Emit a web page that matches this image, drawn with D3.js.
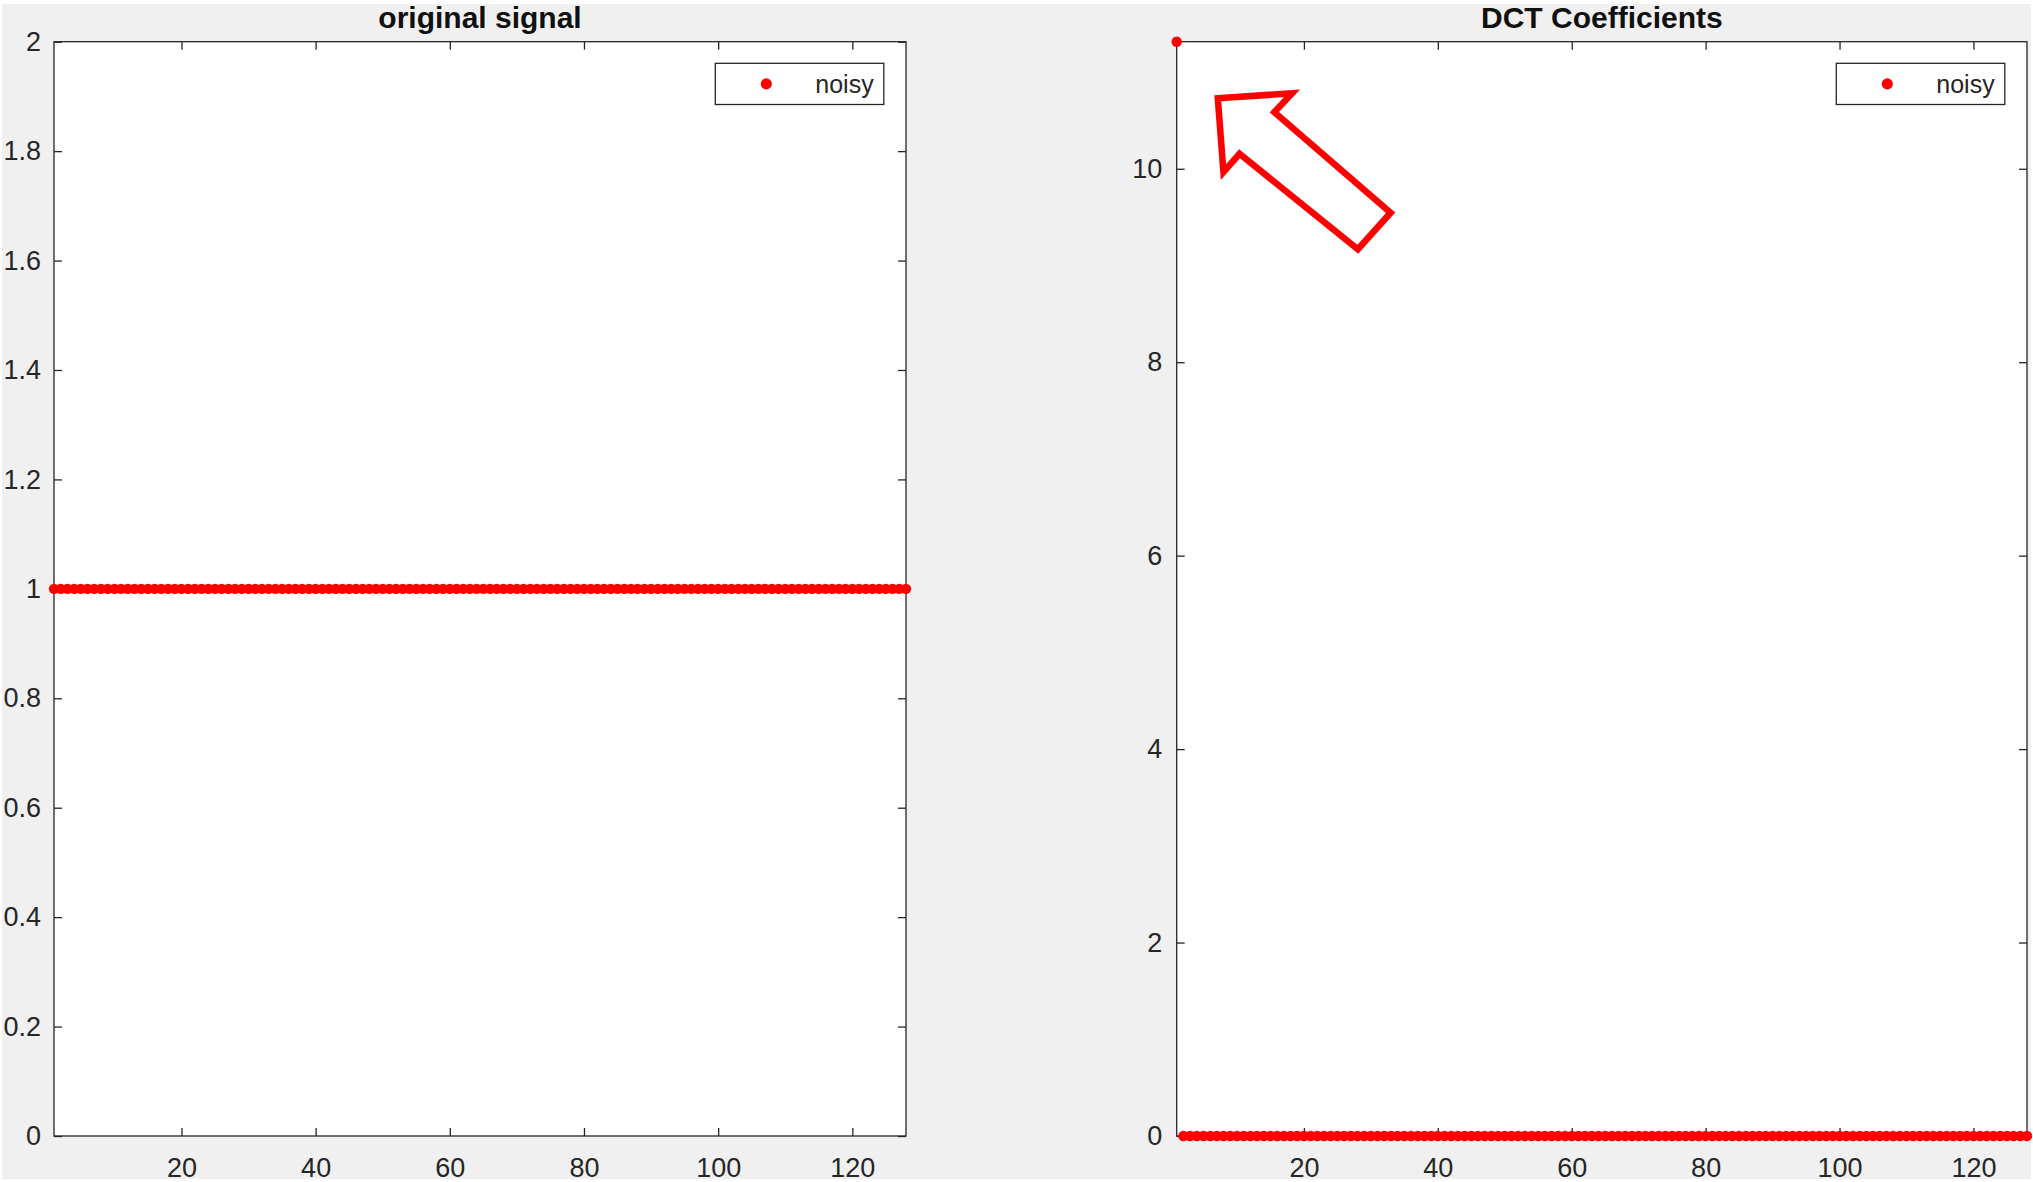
<!DOCTYPE html>
<html>
<head>
<meta charset="utf-8">
<script src="https://cdn.jsdelivr.net/npm/d3@7"></script>
<style>
  html, body { margin: 0; padding: 0; background: #ffffff; }
  svg { display: block; }
</style>
</head>
<body>
<script>
// ---- data -------------------------------------------------------------
const signalTitle = "original signal";
const dctTitle = "DCT Coefficients";
const legendLabel = "noisy";

// constant input signal, samples 1..128
const originalSignal = [
  1, 1, 1, 1, 1, 1, 1, 1, 1, 1, 1, 1, 1, 1, 1, 1,
  1, 1, 1, 1, 1, 1, 1, 1, 1, 1, 1, 1, 1, 1, 1, 1,
  1, 1, 1, 1, 1, 1, 1, 1, 1, 1, 1, 1, 1, 1, 1, 1,
  1, 1, 1, 1, 1, 1, 1, 1, 1, 1, 1, 1, 1, 1, 1, 1,
  1, 1, 1, 1, 1, 1, 1, 1, 1, 1, 1, 1, 1, 1, 1, 1,
  1, 1, 1, 1, 1, 1, 1, 1, 1, 1, 1, 1, 1, 1, 1, 1,
  1, 1, 1, 1, 1, 1, 1, 1, 1, 1, 1, 1, 1, 1, 1, 1,
  1, 1, 1, 1, 1, 1, 1, 1, 1, 1, 1, 1, 1, 1, 1, 1
];

// its DCT: all energy in the DC term
const dctCoefficients = [
  11.3137, 0, 0, 0, 0, 0, 0, 0, 0, 0, 0, 0, 0, 0, 0, 0,
  0, 0, 0, 0, 0, 0, 0, 0, 0, 0, 0, 0, 0, 0, 0, 0,
  0, 0, 0, 0, 0, 0, 0, 0, 0, 0, 0, 0, 0, 0, 0, 0,
  0, 0, 0, 0, 0, 0, 0, 0, 0, 0, 0, 0, 0, 0, 0, 0,
  0, 0, 0, 0, 0, 0, 0, 0, 0, 0, 0, 0, 0, 0, 0, 0,
  0, 0, 0, 0, 0, 0, 0, 0, 0, 0, 0, 0, 0, 0, 0, 0,
  0, 0, 0, 0, 0, 0, 0, 0, 0, 0, 0, 0, 0, 0, 0, 0,
  0, 0, 0, 0, 0, 0, 0, 0, 0, 0, 0, 0, 0, 0, 0, 0
];

const sampleDomain = [1, 128];
const xTicks = [20, 40, 60, 80, 100, 120];
const xTickLabels = ["20", "40", "60", "80", "100", "120"];

const signalYDomain = [0, 2];
const signalYTicks = [0, 0.2, 0.4, 0.6, 0.8, 1, 1.2, 1.4, 1.6, 1.8, 2];
const signalYTickLabels = ["0", "0.2", "0.4", "0.6", "0.8", "1", "1.2", "1.4", "1.6", "1.8", "2"];

const dctYDomain = [0, 11.3137];
const dctYTicks = [0, 2, 4, 6, 8, 10];
const dctYTickLabels = ["0", "2", "4", "6", "8", "10"];

// block-arrow callout pointing at the DC coefficient (data units of the DCT axes)
const arrowOutline = [
  [7.14, 10.73], [18.23, 10.78], [15.58, 10.585], [32.96, 9.546],
  [28.06, 9.168], [10.38, 10.155], [7.98, 9.966]
];

// ---- layout -----------------------------------------------------------
const W = 2033, H = 1182;
const AX_TOP = 41.7, AX_BOTTOM = 1136;
const INK = "#262626";
const RED = "#ff0000";
const FONT = "'Liberation Sans', Arial, Helvetica, sans-serif";

const svg = d3.select("body").append("svg")
  .attr("width", W).attr("height", H)
  .style("font-family", FONT);

svg.append("rect").attr("width", W).attr("height", H).attr("fill", "#ffffff");
svg.append("rect").attr("x", 2).attr("y", 4).attr("width", 2029).attr("height", 1175.3)
  .attr("fill", "#f0f0f0");

function drawPanel(cfg) {
  const x = d3.scaleLinear().domain(sampleDomain).range([cfg.left, cfg.right]);
  const y = d3.scaleLinear().domain(cfg.yDomain).range([AX_BOTTOM, AX_TOP]);
  const g = svg.append("g");

  g.append("rect")
    .attr("x", cfg.left).attr("y", AX_TOP)
    .attr("width", cfg.right - cfg.left).attr("height", AX_BOTTOM - AX_TOP)
    .attr("fill", "#ffffff");

  const styleAxis = sel => {
    sel.select(".domain").remove();
    sel.selectAll(".tick line").attr("stroke", INK).attr("stroke-width", 1.3);
    sel.selectAll(".tick text").attr("fill", INK).style("font-size", "27px").style("font-family", FONT);
  };

  const labelOf = (ticks, labels) => d => labels[ticks.indexOf(d)];

  g.append("g").attr("transform", `translate(0,${AX_BOTTOM})`)
    .call(d3.axisBottom(x).tickValues(xTicks).tickFormat(labelOf(xTicks, xTickLabels))
      .tickSizeInner(-8).tickSizeOuter(0).tickPadding(21.5))
    .call(styleAxis);
  g.append("g").attr("transform", `translate(0,${AX_TOP})`)
    .call(d3.axisTop(x).tickValues(xTicks).tickFormat("").tickSizeInner(-8).tickSizeOuter(0))
    .call(styleAxis);
  g.append("g").attr("transform", `translate(${cfg.left},0)`)
    .call(d3.axisLeft(y).tickValues(cfg.yTicks).tickFormat(labelOf(cfg.yTicks, cfg.yTickLabels))
      .tickSizeInner(-8).tickSizeOuter(0).tickPadding(cfg.yPad))
    .call(styleAxis);
  g.append("g").attr("transform", `translate(${cfg.right},0)`)
    .call(d3.axisRight(y).tickValues(cfg.yTicks).tickFormat("").tickSizeInner(-8).tickSizeOuter(0))
    .call(styleAxis);

  // axes box
  g.append("rect")
    .attr("x", cfg.left).attr("y", AX_TOP)
    .attr("width", cfg.right - cfg.left).attr("height", AX_BOTTOM - AX_TOP)
    .attr("fill", "none").attr("stroke", INK).attr("stroke-width", 1.3);

  // title
  g.append("text")
    .attr("x", (cfg.left + cfg.right) / 2).attr("y", 27.5)
    .attr("text-anchor", "middle")
    .attr("fill", "#111111")
    .style("font-size", "30px").style("font-weight", "bold")
    .text(cfg.title);

  // point markers
  g.append("g").selectAll("circle")
    .data(cfg.values)
    .join("circle")
    .attr("cx", (d, i) => x(i + 1))
    .attr("cy", d => y(d))
    .attr("r", 5.2)
    .attr("fill", RED);

  // legend
  const lw = 168.5, lh = 41.2;
  const lx = cfg.right - 22.2 - lw, ly = AX_TOP + 21.6;
  const lg = g.append("g");
  lg.append("rect").attr("x", lx).attr("y", ly).attr("width", lw).attr("height", lh)
    .attr("fill", "#ffffff").attr("stroke", INK).attr("stroke-width", 1.3);
  lg.append("circle").attr("cx", lx + 51).attr("cy", ly + lh / 2).attr("r", 5.6).attr("fill", RED);
  lg.append("text").attr("x", lx + 100).attr("y", ly + lh / 2).attr("dy", "0.35em")
    .attr("fill", INK).style("font-size", "25px").text(legendLabel);

  return { x, y, g };
}

drawPanel({
  left: 54, right: 906,
  yDomain: signalYDomain, yTicks: signalYTicks, yTickLabels: signalYTickLabels, yPad: 13,
  title: signalTitle, values: originalSignal
});

const dct = drawPanel({
  left: 1176.7, right: 2027,
  yDomain: dctYDomain, yTicks: dctYTicks, yTickLabels: dctYTickLabels, yPad: 14.5,
  title: dctTitle, values: dctCoefficients
});

// arrow callout
dct.g.append("path")
  .attr("d", d3.line().x(p => dct.x(p[0])).y(p => dct.y(p[1]))(arrowOutline) + "Z")
  .attr("fill", "none")
  .attr("stroke", RED)
  .attr("stroke-width", 6.5)
  .attr("stroke-linejoin", "miter")
  .attr("stroke-miterlimit", 10);
</script>
</body>
</html>
